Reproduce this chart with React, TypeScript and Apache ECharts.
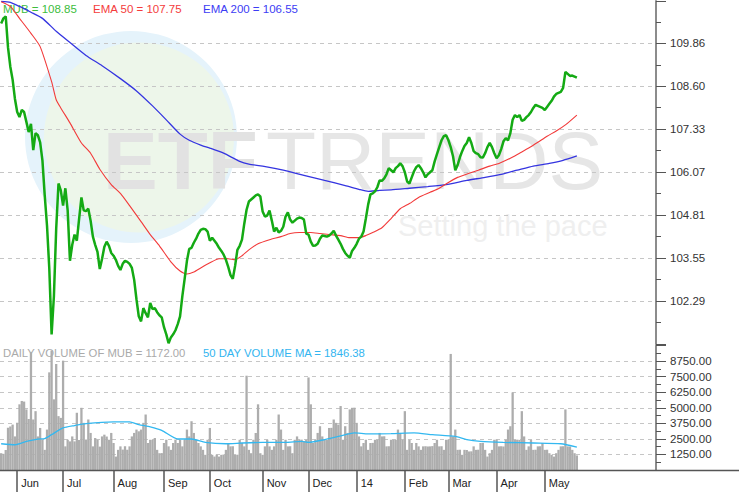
import React, { useEffect, useRef } from 'react';
import * as echarts from 'echarts';

// ---------- data ----------
const startDate = '2013-05-22';
const holidays = ['2013-05-27', '2013-07-04', '2013-09-02', '2013-11-28', '2013-12-25', '2014-01-01', '2014-01-20', '2014-02-17', '2014-04-18', '2014-05-26'];
const monthNames = ['Jan', 'Feb', 'Mar', 'Apr', 'May', 'Jun', 'Jul', 'Aug', 'Sep', 'Oct', 'Nov', 'Dec'];

// MUB daily close
const price = [
  110.44, 110.59, 110.65, 109.73, 109.17, 108.79, 108.23, 107.84, 107.69, 107.90,
  107.84, 107.55, 107.25, 107.49, 106.72, 107.22, 107.16, 106.95, 106.42, 105.39,
  104.50, 103.23, 101.31, 102.43, 104.41, 105.74, 105.54, 105.09, 105.60, 104.95,
  103.47, 103.94, 104.24, 104.06, 104.71, 105.33, 104.95, 104.93, 105.00, 104.65,
  104.18, 103.94, 103.73, 103.23, 103.53, 103.88, 104.03, 103.91, 103.70, 103.62,
  103.50, 103.32, 103.20, 103.38, 103.47, 103.44, 103.38, 103.26, 102.91, 102.34,
  101.84, 101.69, 102.08, 101.93, 101.81, 102.23, 102.05, 102.08, 101.96, 101.87,
  101.81, 101.52, 101.31, 101.05, 101.22, 101.31, 101.43, 101.61, 101.84, 102.43,
  102.94, 103.47, 103.82, 103.85, 104.00, 104.12, 104.27, 104.38, 104.41, 104.40,
  104.33, 104.06, 104.15, 104.06, 103.97, 103.85, 103.76, 103.65, 103.50, 103.29,
  103.05, 102.94, 103.32, 103.79, 103.91, 104.09, 104.56, 104.97, 105.21, 105.27,
  105.33, 105.39, 105.42, 105.36, 104.92, 104.77, 104.80, 104.95, 104.65, 104.33,
  104.44, 104.30, 104.35, 104.47, 104.77, 104.89, 104.68, 104.59, 104.65, 104.71,
  104.74, 104.73, 104.68, 104.27, 104.24, 104.03, 103.91, 103.92, 103.97, 104.12,
  104.21, 104.20, 104.18, 104.21, 104.27, 104.35, 104.21, 104.09, 103.97, 103.82,
  103.70, 103.62, 103.56, 103.76, 103.85, 103.97, 104.12, 104.18, 104.33, 104.71,
  105.12, 105.42, 105.45, 105.51, 105.63, 105.83, 105.82, 105.89, 106.01, 106.19,
  106.13, 106.07, 106.19, 106.25, 106.33, 106.25, 106.07, 105.80, 105.74, 105.92,
  106.10, 106.22, 106.28, 106.19, 106.07, 105.92, 106.01, 106.07, 106.13, 106.39,
  106.60, 106.81, 107.01, 107.13, 107.16, 107.01, 106.81, 106.54, 106.13, 106.28,
  106.51, 106.69, 106.84, 106.93, 107.10, 106.93, 106.69, 106.63, 106.60, 106.51,
  106.50, 106.63, 106.81, 106.93, 106.81, 106.63, 106.48, 106.57, 106.75, 106.98,
  107.07, 107.01, 107.22, 107.61, 107.75, 107.69, 107.75, 107.58, 107.61, 107.69,
  107.75, 107.84, 107.96, 108.05, 108.02, 107.99, 107.96, 107.90, 107.99, 108.08,
  108.17, 108.29, 108.37, 108.40, 108.43, 108.55, 109.02, 108.96, 108.90, 108.91,
  108.88, 108.85,
];

// EMA 50: [trading-day index, value]
const ema50 = [
  [0, 111.08], [4, 110.94], [8, 110.59], [13, 110.15], [17, 109.76], [22, 108.73], [24, 108.20],
  [26, 107.96], [30, 107.52], [35, 106.93], [39, 106.63], [43, 106.16], [48, 105.71], [52, 105.45],
  [56, 105.09], [61, 104.62], [65, 104.24], [69, 103.91], [74, 103.44], [78, 103.17], [81, 103.08],
  [84, 103.14], [87, 103.26], [91, 103.41], [95, 103.53], [99, 103.53], [102, 103.50], [105, 103.62],
  [108, 103.79], [112, 103.97], [117, 104.09], [122, 104.18], [126, 104.27], [130, 104.30],
  [135, 104.30], [139, 104.27], [143, 104.24], [148, 104.21], [152, 104.15], [156, 104.15],
  [159, 104.21], [162, 104.30], [166, 104.44], [170, 104.71], [174, 105.00], [178, 105.15],
  [182, 105.33], [187, 105.48], [191, 105.60], [195, 105.77], [199, 105.92], [204, 106.04],
  [208, 106.13], [213, 106.25], [217, 106.33], [222, 106.48], [226, 106.63], [230, 106.78],
  [234, 106.95], [238, 107.13], [242, 107.28], [246, 107.46], [251, 107.75],
];

// EMA 200: [trading-day index, value]
const ema200 = [
  [0, 111.09], [4, 111.06], [8, 110.94], [13, 110.77], [18, 110.59], [24, 110.21], [30, 109.88],
  [37, 109.50], [44, 109.20], [52, 108.82], [59, 108.46], [66, 108.02], [72, 107.61], [78, 107.19],
  [82, 107.01], [87, 106.87], [91, 106.78], [97, 106.63], [104, 106.39], [108, 106.31],
  [114, 106.25], [123, 106.13], [132, 105.98], [141, 105.83], [150, 105.68], [156, 105.57],
  [160, 105.51], [165, 105.54], [170, 105.55], [178, 105.60], [186, 105.65], [194, 105.71],
  [203, 105.83], [211, 105.92], [218, 106.01], [225, 106.13], [232, 106.25], [239, 106.33],
  [245, 106.42], [251, 106.55],
];

// Daily volume
const volume = [
  1350, 1300, 1600, 3400, 3500, 3650, 2700, 3800, 5280, 5550,
  5500, 4870, 4100, 9470, 4060, 4730, 2700, 3380, 2430, 1620,
  3250, 7850, 9600, 5680, 8520, 4330, 4190, 8790, 1900, 2430,
  2300, 2700, 2300, 4600, 2410, 5000, 3790, 2450, 4060, 2980,
  1900, 2570, 2430, 1880, 2700, 2840, 2690, 2430, 2980, 2170,
  1080, 1620, 1900, 1640, 1910, 1620, 1900, 2700, 2980, 3250,
  3110, 3250, 3790, 4460, 2170, 2430, 2420, 2570, 1620, 1350,
  1360, 2170, 2430, 1900, 1620, 2170, 2440, 2170, 2430, 1900,
  2430, 3250, 2700, 3920, 2980, 2430, 2170, 1900, 1620, 1220,
  2430, 3380, 1220, 1080, 1230, 1080, 1220, 1240, 1620, 2170,
  1900, 1910, 1220, 1230, 2430, 2170, 1900, 7580, 1620, 1350,
  2430, 2980, 5280, 1350, 1220, 1900, 2430, 1900, 1620, 1900,
  2430, 4460, 3250, 1620, 2430, 1900, 1910, 1350, 2430, 2700,
  2430, 2440, 2300, 2430, 7440, 5280, 2170, 2430, 2980, 3520,
  2700, 2430, 2420, 3380, 3390, 4060, 3790, 3650, 5140, 2430,
  3520, 2980, 4870, 5000, 5010, 3790, 2700, 1900, 2170, 2430,
  1620, 2170, 2180, 2430, 2440, 2980, 2700, 2710, 1900, 1910,
  2430, 2440, 2420, 3250, 2980, 2430, 4730, 1620, 2430, 2170,
  1620, 2170, 1900, 1620, 1900, 1910, 1890, 1900, 1920, 2170,
  2430, 1900, 1910, 1620, 2430, 2440, 9330, 2700, 3250, 1620,
  1630, 1220, 1620, 1610, 1490, 1500, 1900, 1620, 1630, 2170,
  2180, 1620, 1080, 1350, 1620, 2430, 2440, 1900, 1910, 1890,
  2430, 3250, 3520, 6220, 2430, 2440, 2420, 4730, 2700, 1620,
  1900, 2430, 1620, 1630, 1900, 1910, 2170, 1620, 1630, 1350,
  1220, 1080, 1350, 1620, 1900, 1910, 4870, 1900, 1890, 1620,
  1350, 1172,
];

// 50 day volume moving average: [trading-day index, value]
const volumeMA = [
  [0, 2110], [6, 2030], [11, 2300], [16, 2490], [19, 2520], [22, 2840], [27, 3380], [32, 3570],
  [37, 3730], [49, 3870], [56, 3870], [60, 3650], [65, 3470], [70, 3190], [77, 2490], [83, 2490],
  [89, 2220], [98, 2110], [105, 2170], [114, 2220], [124, 2220], [131, 2300], [134, 2220],
  [141, 2440], [147, 2700], [154, 2980], [160, 2900], [170, 2920], [180, 2980], [188, 2840],
  [198, 2700], [203, 2440], [209, 2300], [219, 2220], [232, 2170], [244, 2110], [251, 1846.38],
];

const priceAxisMin = 101.0263;
const priceAxisMax = 111.1;
const priceAxisStep = 1.2617;
const volumeAxisMax = 10000;
const volumeAxisStep = 1250;
const axisSlots = 286;

// ---------- helpers ----------
function tradingDays(start: string, n: number): string[] {
  const out: string[] = [];
  const d = new Date(start + 'T00:00:00Z');
  while (out.length < n) {
    const dow = d.getUTCDay();
    const iso = d.toISOString().slice(0, 10);
    if (dow !== 0 && dow !== 6 && holidays.indexOf(iso) < 0) out.push(iso);
    d.setUTCDate(d.getUTCDate() + 1);
  }
  return out;
}

const dates = tradingDays(startDate, price.length);
const categories = dates.concat(new Array(axisSlots - dates.length).fill(''));
const isMonthStart = (i: number) =>
  i > 0 && i < dates.length && dates[i].slice(5, 7) !== dates[i - 1].slice(5, 7);
const monthLabel = (v: string) => {
  if (!v) return '';
  const m = parseInt(v.slice(5, 7), 10);
  return m === 1 ? v.slice(2, 4) : monthNames[m - 1];
};

const FONT = '"Liberation Sans", Arial, sans-serif';

export default function App() {
  const ref = useRef<HTMLDivElement>(null);
  useEffect(() => {
    if (!ref.current) return;
    const chart = echarts.init(ref.current, undefined, { renderer: 'svg' });

    const makeSplit = () => ({
      show: true, showMinLine: false, showMaxLine: false,
      lineStyle: { color: '#c6c6c6', type: [4, 4], width: 1 },
    });
    const yCommon = () => ({
      position: 'right',
      axisLine: { show: true, onZero: false, lineStyle: { color: '#8c8c8c', width: 2 } },
      axisTick: { show: true, length: 10, lineStyle: { color: '#555', width: 1 } },
      minorTick: { show: true, splitNumber: 2, length: 5, lineStyle: { color: '#555', width: 1 } },
      minorSplitLine: { show: false },
      splitLine: makeSplit(),
    });

    chart.setOption({
      animation: false,
      textStyle: { fontFamily: FONT },
      grid: [
        { left: 0, right: 83, top: 1, height: 343, outerBoundsMode: 'none', containLabel: false },
        { left: 0, right: 83, top: 345.6, height: 124.4, outerBoundsMode: 'none', containLabel: false },
      ],
      xAxis: [
        { type: 'category', gridIndex: 0, data: categories, boundaryGap: true, axisLine: { show: false }, axisTick: { show: false }, axisLabel: { show: false }, splitLine: { show: false } },
        {
          type: 'category', gridIndex: 1, data: categories, boundaryGap: true,
          axisLine: { show: false },
          axisTick: {
            show: true, alignWithLabel: true, length: 22,
            interval: (i: number) => isMonthStart(i),
            lineStyle: { color: '#555', width: 1.5 },
          },
          axisLabel: {
            interval: (i: number) => isMonthStart(i),
            formatter: (v: string) => monthLabel(v),
            align: 'left', padding: [0, 0, 0, 4], margin: 7,
            color: '#222', fontSize: 11, fontFamily: FONT,
          },
          splitLine: { show: false },
        },
      ],
      yAxis: [
        {
          type: 'value', gridIndex: 0, ...yCommon(),
          min: priceAxisMin, max: priceAxisMax, interval: priceAxisStep,
          axisLabel: {
            margin: 14, color: '#333', fontSize: 11.5, fontFamily: FONT,
            showMinLabel: false, showMaxLabel: false,
            formatter: (v: number) => v.toFixed(2),
          },
        },
        {
          type: 'value', gridIndex: 1, ...yCommon(),
          min: 0, max: volumeAxisMax, interval: volumeAxisStep,
          axisLabel: {
            margin: 14, color: '#333', fontSize: 11.5, fontFamily: FONT,
            showMinLabel: false, showMaxLabel: false,
            formatter: (v: number) => v.toFixed(2),
          },
        },
      ],
      series: [
        {
          name: 'EMA 200', type: 'line', xAxisIndex: 0, yAxisIndex: 0, data: ema200,
          symbol: 'none', smooth: 0.2, lineStyle: { color: '#3535e0', width: 1.3 }, z: 3,
        },
        {
          name: 'EMA 50', type: 'line', xAxisIndex: 0, yAxisIndex: 0, data: ema50,
          symbol: 'none', smooth: 0.2, lineStyle: { color: '#f23a3a', width: 1.1 }, z: 4,
        },
        {
          name: 'MUB', type: 'line', xAxisIndex: 0, yAxisIndex: 0, data: price,
          symbol: 'none', smooth: false, lineStyle: { color: '#14aa14', width: 2.5 }, z: 5,
        },
        {
          name: 'Volume', type: 'bar', xAxisIndex: 1, yAxisIndex: 1, data: volume,
          barCategoryGap: '0%', itemStyle: { color: '#adadad' }, z: 2,
        },
        {
          name: 'Volume MA', type: 'line', xAxisIndex: 1, yAxisIndex: 1, data: volumeMA,
          symbol: 'none', smooth: 0.2, lineStyle: { color: '#33b8f0', width: 1.3 }, z: 4,
        },
      ],
      graphic: [
        { type: 'circle', z: -100, silent: true, shape: { cx: 131, cy: 137, r: 106 }, style: { fill: '#e5f3fb' } },
        { type: 'circle', z: -99, silent: true, shape: { cx: 139, cy: 137.5, r: 95 }, style: { fill: '#edf6ea' } },
        {
          type: 'text', z: -98, silent: true, x: 103, y: 160.5,
          style: { text: 'ETF', fill: '#e2e2e2', font: 'bold 82px ' + FONT, verticalAlign: 'middle', align: 'left' },
        },
        {
          type: 'text', z: -98, silent: true, x: 266, y: 160.5,
          style: { text: 'TRENDS', fill: '#e6e6e6', font: '82px ' + FONT, verticalAlign: 'middle', align: 'left' },
        },
        {
          type: 'text', z: -98, silent: true, x: 398, y: 225.5,
          style: { text: 'Setting the pace', fill: '#efefef', font: '29px ' + FONT, verticalAlign: 'middle', align: 'left' },
        },
        {
          type: 'text', z: 1, silent: true, x: 3, y: 8.5,
          style: { text: 'MUB = 108.85', fill: '#3cbd3c', font: '11.5px ' + FONT, verticalAlign: 'middle' },
        },
        {
          type: 'text', z: 1, silent: true, x: 93, y: 8.5,
          style: { text: 'EMA 50 = 107.75', fill: '#f43c3c', font: '11.5px ' + FONT, verticalAlign: 'middle' },
        },
        {
          type: 'text', z: 1, silent: true, x: 203, y: 8.5,
          style: { text: 'EMA 200 = 106.55', fill: '#3c3cf4', font: '11.5px ' + FONT, verticalAlign: 'middle' },
        },
        {
          type: 'text', z: 1, silent: true, x: 3, y: 352.5,
          style: { text: 'DAILY VOLUME OF MUB = 1172.00', fill: '#aaaaaa', font: '11.3px ' + FONT, verticalAlign: 'middle' },
        },
        {
          type: 'text', z: 1, silent: true, x: 203, y: 352.5,
          style: { text: '50 DAY VOLUME MA = 1846.38', fill: '#33b5f0', font: '11.3px ' + FONT, verticalAlign: 'middle' },
        },
        {
          type: 'line', z: 10, silent: true,
          shape: { x1: 0, y1: 470.5, x2: 739, y2: 470.5 },
          style: { stroke: '#555', lineWidth: 1.5 },
        },
      ],
    });
    return () => chart.dispose();
  }, []);

  return (
    <div
      ref={ref}
      style={{ position: 'fixed', left: 0, top: 0, width: 739, height: 498, background: '#fff' }}
    />
  );
}
